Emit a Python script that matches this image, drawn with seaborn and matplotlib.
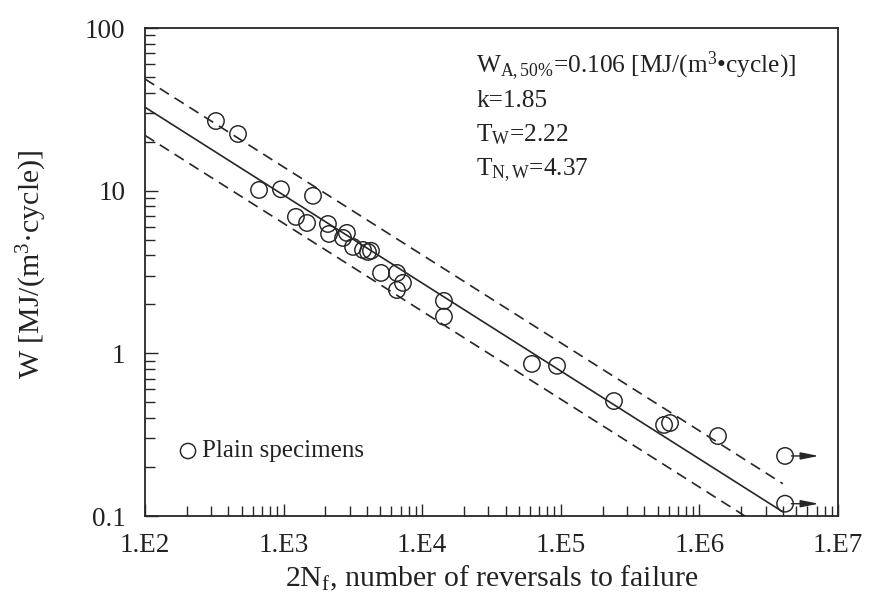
import numpy as np
import pandas as pd
import matplotlib
matplotlib.use("Agg")
import matplotlib.pyplot as plt
import seaborn as sns
from matplotlib.ticker import FixedLocator, LogLocator, NullFormatter

# Test results: reversals to failure (2Nf) and strain energy density W
reversals = [325, 469, 665, 957, 1630, 1227, 1476, 2089, 2128, 2864, 2686,
             3170, 3741, 4063, 4271, 5047, 6578, 7262, 6578, 14350, 14350,
             61900, 93900, 242000, 556000, 614000, 1362000, 4150000, 4150000]
energy = [26.8, 22.3, 10.1, 10.2, 9.3, 6.9, 6.33, 6.24, 5.42, 5.5, 5.12,
          4.51, 4.32, 4.2, 4.27, 3.12, 3.12, 2.71, 2.45, 2.1, 1.68,
          0.861, 0.838, 0.509, 0.363, 0.373, 0.31, 0.234, 0.119]
runout = [False] * 27 + [True, True]

# Fitted curve parameters
W_A = 0.106          # MJ/(m^3 cycle) at the reference life
N_A = 4.0e6          # reference number of reversals
k = 1.85
T_W = 2.22
T_NW = 4.37

x_ticks = [1e2, 1e3, 1e4, 1e5, 1e6, 1e7]
x_ticklabels = ["1.E2", "1.E3", "1.E4", "1.E5", "1.E6", "1.E7"]
y_ticks = [0.1, 1, 10, 100]
y_ticklabels = ["0.1", "1", "10", "100"]

sns.set_theme(style="ticks")
plt.rcParams["font.family"] = ["Liberation Serif", "DejaVu Serif"]
plt.rcParams["mathtext.fontset"] = "custom"
plt.rcParams["mathtext.rm"] = "Liberation Serif"
plt.rcParams["mathtext.it"] = "Liberation Serif:italic"
plt.rcParams["mathtext.bf"] = "Liberation Serif:bold"

ink = "#262626"
txt = "#222222"

fig = plt.figure(figsize=(8.70, 6.01), dpi=100)
ax = fig.add_axes([145 / 870, 85 / 601, 693 / 870, 488 / 601])

df = pd.DataFrame({"reversals": reversals, "energy": energy, "runout": runout})

# Fitted line and scatter band
n_line = np.array([1e2, N_A])
w_mid = W_A * (n_line / N_A) ** (-1.0 / k)
band = np.sqrt(T_W)
lines = pd.DataFrame({
    "n": np.concatenate([n_line] * 3),
    "w": np.concatenate([w_mid, w_mid * band, w_mid / band]),
    "curve": ["50%"] * 2 + ["upper"] * 2 + ["lower"] * 2,
})
sns.lineplot(data=lines[lines.curve == "50%"], x="n", y="w", color=ink,
             lw=1.2, ax=ax, legend=False)
for name in ["upper", "lower"]:
    sns.lineplot(data=lines[lines.curve == name], x="n", y="w", color=ink,
                 lw=1.2, ax=ax, legend=False, dashes=False,
                 linestyle=(0, (6.5, 4)))

sns.scatterplot(data=df, x="reversals", y="energy", marker="o", s=140,
                facecolor="none", edgecolor=ink, linewidth=1.05, ax=ax,
                legend=False, zorder=3)

# Run-outs marked with arrows
for _, r in df[df.runout].iterrows():
    ax.annotate("", xy=(r.reversals * 1.75, r.energy),
                xytext=(r.reversals * 1.11, r.energy),
                arrowprops=dict(arrowstyle="-|>,head_length=0.9,head_width=0.18",
                                color=ink, lw=1.0, shrinkA=0, shrinkB=0))

ax.set_xscale("log")
ax.set_yscale("log")
ax.set_xlim(1e2, 1e7)
ax.set_ylim(0.1, 100)
ax.xaxis.set_major_locator(FixedLocator(x_ticks))
ax.set_xticklabels(x_ticklabels)
ax.yaxis.set_major_locator(FixedLocator(y_ticks))
ax.set_yticklabels(y_ticklabels)
ax.xaxis.set_minor_locator(LogLocator(base=10, subs=np.arange(2, 10)))
ax.yaxis.set_minor_locator(LogLocator(base=10, subs=np.arange(2, 10)))
ax.xaxis.set_minor_formatter(NullFormatter())
ax.yaxis.set_minor_formatter(NullFormatter())
ax.tick_params(which="both", direction="in", top=False, right=False,
               color=ink, width=1.0)
ax.tick_params(which="major", length=9, labelsize=19.5, labelcolor=txt)
ax.tick_params(axis="x", which="major", pad=12)
ax.tick_params(axis="y", which="major", pad=14)
ax.tick_params(which="minor", length=7)
for s in ax.spines.values():
    s.set_color(ink)
    s.set_linewidth(1.3)

ax.set_xlabel(r"2N$_{\mathrm{f}}$, number of reversals to failure",
              fontsize=21.5, color=txt, labelpad=4.5)
ax.set_ylabel(r"W [MJ/(m$^{3}$·cycle)]", fontsize=21.5, color=txt)
ax.yaxis.set_label_coords(-0.138, 0.516)

# Fit parameters
txt_kw = dict(transform=ax.transAxes, fontsize=18.3, color=txt, ha="left",
              va="baseline")
x0 = (476 - 145) / 693
ax.text(x0, (516 - 73) / 488,
        r"W$_{\mathrm{A,50\%}}$=" + f"{W_A:.3f}" + r" [MJ/(m$^{3}$•cycle)]",
        **txt_kw)
ax.text(x0, (516 - 107) / 488, f"k={k:.2f}", **txt_kw)
ax.text(x0, (516 - 141) / 488, r"T$_{\mathrm{W}}$=" + f"{T_W:.2f}", **txt_kw)
ax.text(x0, (516 - 175) / 488, r"T$_{\mathrm{N,W}}$=" + f"{T_NW:.2f}", **txt_kw)

# Legend entry
ax.scatter([(188 - 145) / 693], [(516 - 451) / 488], transform=ax.transAxes,
           s=120, facecolor="none", edgecolor=ink, linewidth=1.05)
ax.text((202 - 145) / 693, (516 - 451) / 488, "Plain specimens",
        transform=ax.transAxes, fontsize=18, color=txt, va="center")

fig.savefig("out.png", dpi=100)
